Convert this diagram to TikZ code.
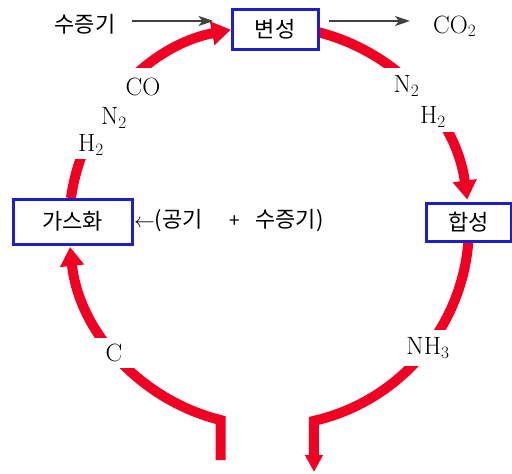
\documentclass[tikz,border=0pt]{standalone}
\usepackage{fontspec}
\newfontfamily\kr{Noto Sans CJK KR}
\usetikzlibrary{arrows.meta,calc}
\definecolor{cycred}{RGB}{240,0,35}
\definecolor{boxblue}{RGB}{30,30,205}
\definecolor{arrgray}{RGB}{65,65,65}
\tikzset{
  procbox/.style={draw=boxblue, line width=3pt, fill=white, inner sep=0pt, font=\kr\fontsize{22}{26}\selectfont},
  krtext/.style={inner sep=0pt, font=\kr\fontsize{22}{26}\selectfont},
  chem/.style={inner sep=0pt, fill=white, font=\fontsize{25}{29}\selectfont},
  redline/.style={draw=cycred, line width=10pt, line join=miter},
  redtip/.style={-{Triangle[width=23pt,length=19pt]}},
  grayarr/.style={draw=arrgray, line width=2pt, -{Stealth[length=15pt,width=10pt,inset=4pt]}}
}
\begin{document}
\begin{tikzpicture}[x=1pt,y=1pt]
\useasboundingbox (0,0) rectangle (512,-474);
\coordinate (O) at (269,-226);
% red cycle
\coordinate (lb) at (220.6,-460);
\coordinate (rb) at (314,-472);
\draw[redline,redtip] (lb) -- ($(O)+(256:200)$) arc[start angle=256, end angle=186, radius=200];
\draw[redline,redtip] ($(O)+(172:200)$) arc[start angle=172, end angle=101, radius=200];
\draw[redline,redtip] ($(O)+(78:200)$) arc[start angle=78, end angle=7.6, radius=200];
\draw[redline,-{Triangle[width=17pt,length=17pt]}] ($(O)+(-3:200)$) arc[start angle=-3, end angle=-77, radius=200] -- (rb);
% boxes
\node[procbox, minimum width=86pt, minimum height=40pt] (byeon) at (275,-29) {변성};
\node[procbox, minimum width=119pt, minimum height=45pt] (gas) at (72.5,-221.5) {가스화};
\node[procbox, minimum width=85pt, minimum height=38pt] (hap) at (468.5,-222) {합성};
% chemical labels (white backs hide the cycle line)
\node[chem, minimum width=72pt, minimum height=38pt] (lco) at (136,-87) {\hspace*{14pt}CO};
\node[chem, minimum width=48pt, minimum height=28pt] (ln2) at (109,-118) {\hspace*{10pt}N$_2$};
\node[chem, minimum width=35pt, minimum height=28pt] (lh2) at (89.5,-145) {\hspace*{3pt}H$_2$};
\node[chem, minimum width=57pt, minimum height=36pt] (rn2) at (406.5,-86) {N$_2$};
\node[chem, minimum width=42pt, minimum height=29pt] (rh2) at (433,-117) {H$_2$};
\node[chem, minimum width=43pt, minimum height=30pt] (cc) at (114,-353) {C};
\node[chem, minimum width=62pt, minimum height=36pt] (nh3) at (428,-348) {NH$_3$};
% top line
\node[krtext] (steam) at (85,-24) {수증기};
\node[chem, fill=none, anchor=base west] (co2) at (433,-33) {CO$_2$};
\draw[grayarr] ([shift={(16,3)}]steam.east) -- ([shift={(-17,8)}]byeon.west);
\draw[grayarr] ([shift={(9,8)}]byeon.east) -- ([shift={(-23,12)}]co2.base west);
% air + steam
\node[krtext, anchor=west] (air) at (134,-221) {$\leftarrow$(공기\hspace{27pt}{\fontsize{19}{19}\selectfont +}\hspace{15pt}수증기)};
\end{tikzpicture}
\end{document}
